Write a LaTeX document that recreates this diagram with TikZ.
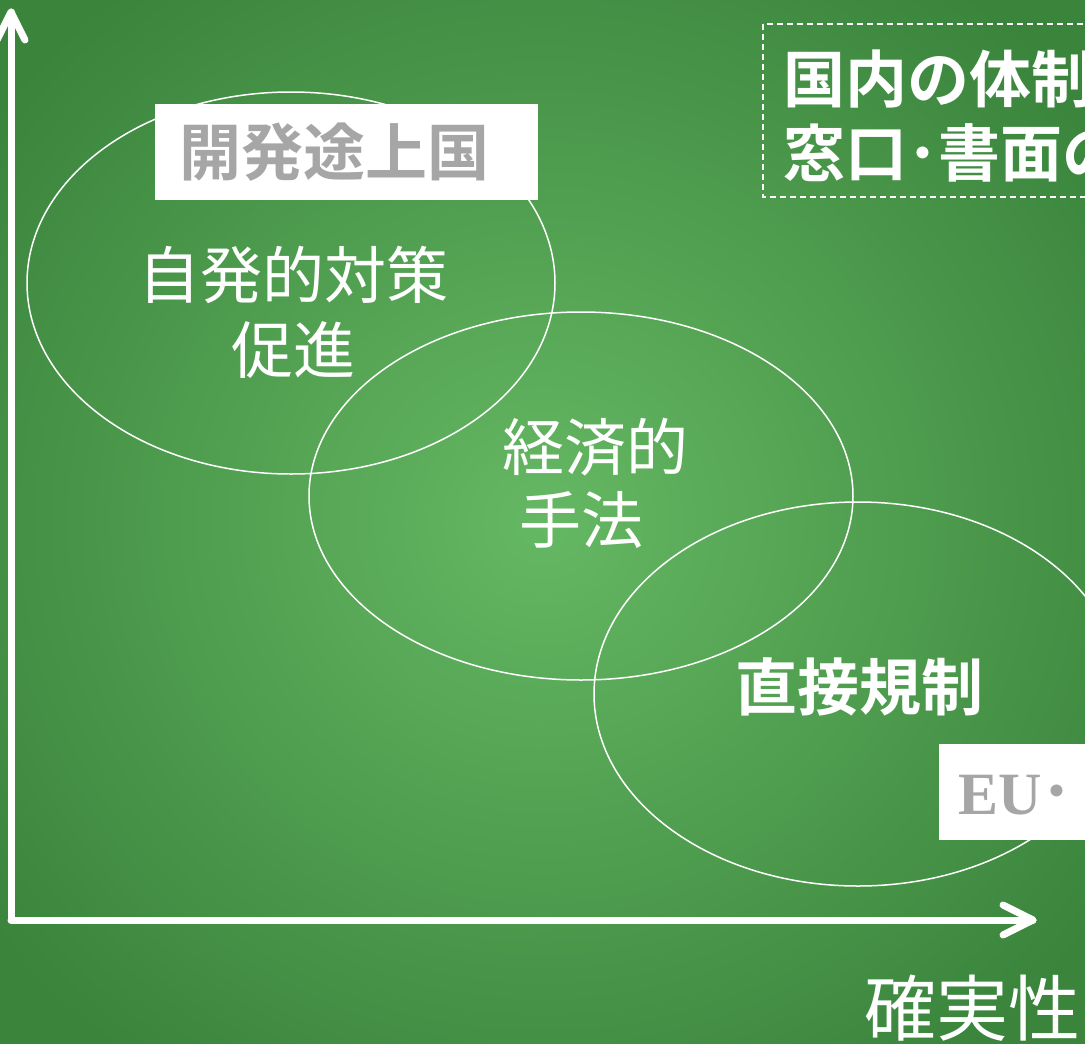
\documentclass[tikz,border=0pt]{standalone}
\usepackage{fontspec}
\newfontfamily\jp{Noto Sans CJK JP}[BoldFont={Noto Sans CJK JP Bold}]
\newfontfamily\serifb{Liberation Serif}
\definecolor{bginner}{RGB}{101,184,99}
\definecolor{bgouter}{RGB}{58,132,60}
\definecolor{labgray}{RGB}{166,166,166}
\tikzset{
  axis/.style={white, line width=7pt, line cap=round, line join=round},
  oval/.style={white, line width=1.5pt},
  plain/.style={font=\jp\fontsize{62}{62}\selectfont, text=white, inner sep=0pt},
  strong/.style={font=\jp\bfseries\fontsize{62}{62}\selectfont, text=white, inner sep=0pt},
  graylab/.style={font=\jp\bfseries\fontsize{62}{62}\selectfont, text=labgray, inner sep=0pt},
  whitebox/.style={fill=white, draw=none},
}
\begin{document}
\begin{tikzpicture}[x=1pt,y=-1pt]
\useasboundingbox (0,0) rectangle (1085,1044);
\clip (0,0) rectangle (1085,1044);
\shade[inner color=bginner, outer color=bgouter] (-150,-150) rectangle (1235,1194);
% ellipses
\draw[oval] (291,283) ellipse [x radius=264, y radius=191];
\draw[oval] (581,496) ellipse [x radius=272, y radius=184];
\draw[oval] (858,694) ellipse [x radius=264, y radius=192];
% axes
\coordinate (o) at (11,920);
\coordinate (ytip) at (11,12);
\coordinate (xtip) at (1033,920);
\draw[axis] (o) -- (ytip);
\draw[axis] (-3,40) -- (ytip) -- (25,40);
\draw[axis] (o) -- (xtip);
\draw[axis] (1003,905) -- (xtip) -- (1003,935);
% developing countries box
\fill[whitebox] (155,104) rectangle (538,200);
\node[graylab] (dev) at (334,152) {開発途上国};
% ellipse labels
\node[plain] (v1) at (293,275) {自発的対策};
\node[plain] (v2) at (293,350) {促進};
\node[plain] (e1) at (595,447) {経済的};
\node[plain] (e2) at (581,520) {手法};
\node[strong] (d1) at (859,687) {直接規制};
% EU box
\fill[whitebox] (939,744) rectangle (1100,840);
\node[inner sep=0pt, anchor=west, text=labgray] (eu) at (958,795) {\serifb\bfseries\fontsize{60}{60}\selectfont EU\jp\bfseries\fontsize{62}{62}\selectfont ･};
% dashed box
\draw[white, line width=1.5pt, dash pattern=on 6pt off 4pt] (763,24) rectangle (1100,197);
\node[strong, anchor=west] (t1) at (783,79) {国内の体制};
\node[strong, anchor=west] (t2) at (783,153) {窓口･書面の};
% x axis label
\node[plain, font=\jp\fontsize{72}{72}\selectfont] (xl) at (972,1008) {確実性};
\end{tikzpicture}
\end{document}
